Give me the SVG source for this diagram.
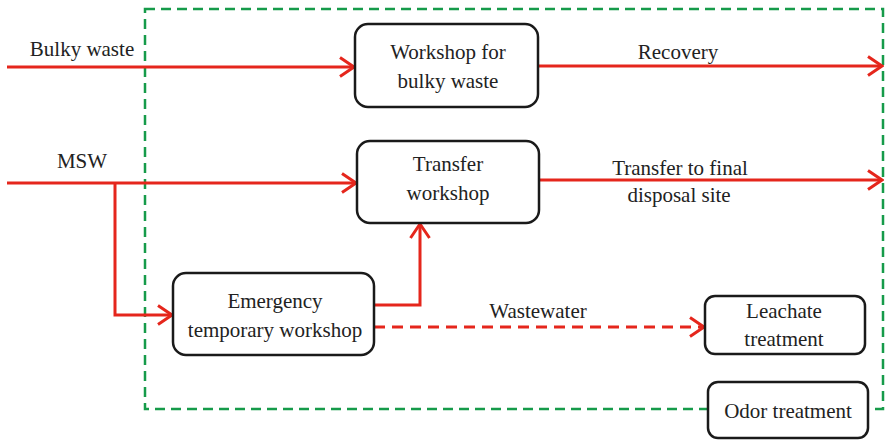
<svg xmlns="http://www.w3.org/2000/svg" width="885" height="440" viewBox="0 0 885 440">
  <style>
    .box { fill: #ffffff; stroke: #1a1a1a; stroke-width: 2.5; }
    .lbl { font-family: "Liberation Serif", "Times New Roman", serif; font-size: 21px; fill: #222222; text-anchor: middle; }
    .flow { fill: none; stroke: #e5261c; stroke-width: 3; }
    .dash { stroke-dasharray: 11 7; }
    .zone { fill: none; stroke: #169b4a; stroke-width: 2.5; stroke-dasharray: 10 6; }
  </style>
  <defs>
    <!-- open chevron arrowhead -->
    <marker id="arrow" viewBox="0 0 17 22" refX="15.5" refY="11" markerWidth="17" markerHeight="22" markerUnits="userSpaceOnUse" orient="auto">
      <path d="M1.5,1.5 L15.5,11 L1.5,20.5" fill="none" stroke="#e5261c" stroke-width="3"/>
    </marker>
  </defs>

  <!-- station boundary -->
  <rect class="zone" x="145" y="9" width="738" height="400"/>

  <!-- connectors -->
  <g id="connectors">
    <path class="flow" d="M7,67 H354" marker-end="url(#arrow)"/>
    <path class="flow" d="M538,66 H882" marker-end="url(#arrow)"/>
    <path class="flow" d="M7,183 H356" marker-end="url(#arrow)"/>
    <path class="flow" d="M115,183 V315 H172" marker-end="url(#arrow)"/>
    <path class="flow" d="M539,180 H882" marker-end="url(#arrow)"/>
    <path class="flow" d="M374,305 H420 V224" marker-end="url(#arrow)"/>
    <path class="flow dash" d="M374,327 H704" marker-end="url(#arrow)"/>
    <text class="lbl" x="82" y="56">Bulky waste</text>
    <text class="lbl" x="82" y="168">MSW</text>
    <text class="lbl" x="678" y="59">Recovery</text>
    <text class="lbl" x="680" y="175">Transfer to final</text>
    <text class="lbl" x="679" y="202">disposal site</text>
    <text class="lbl" x="538" y="318">Wastewater</text>
  </g>

  <g id="bulky-workshop">
    <rect class="box" x="355" y="24" width="183" height="83" rx="13"/>
    <text class="lbl" x="448" y="59">Workshop for</text>
    <text class="lbl" x="448" y="88">bulky waste</text>
  </g>

  <g id="transfer-workshop">
    <rect class="box" x="357" y="141" width="182" height="82" rx="13"/>
    <text class="lbl" x="448" y="171">Transfer</text>
    <text class="lbl" x="448" y="200">workshop</text>
  </g>

  <g id="emergency-workshop">
    <rect class="box" x="173" y="273" width="201" height="82" rx="13"/>
    <text class="lbl" x="275" y="308">Emergency</text>
    <text class="lbl" x="275" y="337">temporary workshop</text>
  </g>

  <g id="leachate-treatment">
    <rect class="box" x="705" y="296" width="160" height="58" rx="10"/>
    <text class="lbl" x="784" y="318">Leachate</text>
    <text class="lbl" x="784" y="346">treatment</text>
  </g>

  <g id="odor-treatment">
    <rect class="box" x="708" y="382" width="160" height="56" rx="10"/>
    <text class="lbl" x="788" y="418">Odor treatment</text>
  </g>
</svg>
